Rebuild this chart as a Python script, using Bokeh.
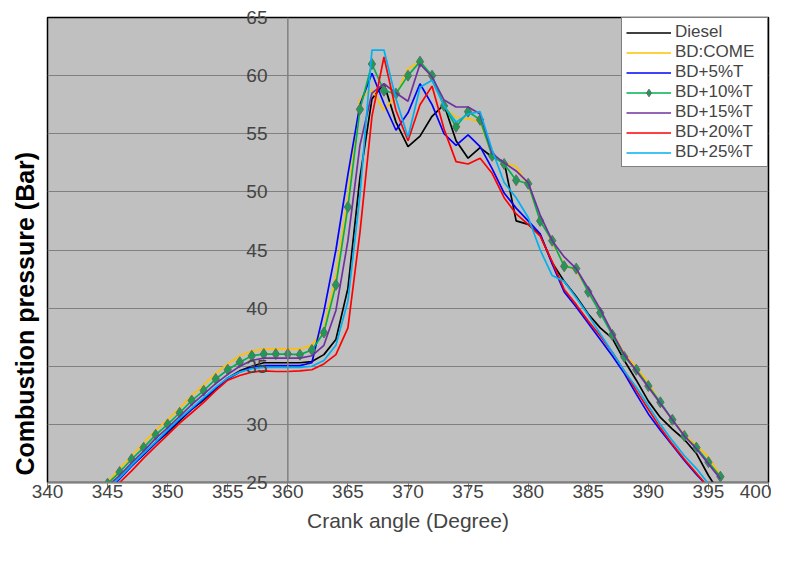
from bokeh.plotting import figure
from bokeh.models import Range1d, Legend, LegendItem, FixedTicker, Title, Span
from bokeh.embed import file_html
from bokeh.resources import INLINE

# ---- data ----
crank_angle = list(range(345, 397))

diesel = [24.4, 25.4, 26.5, 27.4, 28.4, 29.3, 30.3, 31.3, 32.1, 33.0,
          34.0, 34.6, 35.0, 35.3, 35.3, 35.3, 35.3, 35.4, 36.0, 37.3,
          41.7, 51.2, 58.0, 59.3, 56.0, 53.9, 54.8, 56.5, 57.5, 54.4,
          52.9, 53.8, 53.0, 52.6, 47.5, 47.2, 46.3, 43.9, 42.3, 41.0,
          39.5, 38.3, 37.4, 35.5, 33.8, 32.0, 30.6, 29.6, 28.7, 27.5,
          25.6, 24.0]
bd_come = [25.0, 26.2, 27.3, 28.4, 29.5, 30.4, 31.4, 32.5, 33.4, 34.4,
           35.2, 35.9, 36.3, 36.5, 36.5, 36.5, 36.5, 36.8, 38.2, 42.8,
           49.5, 58.0, 58.8, 57.0, 58.3, 60.6, 61.2, 59.8, 57.3, 56.4,
           56.3, 56.0, 53.2, 52.5, 52.2, 50.5, 47.8, 45.6, 43.8, 43.2,
           41.5, 39.7, 37.9, 36.1, 34.9, 33.6, 31.8, 30.4, 29.1, 28.2,
           27.2, 25.6]
bd_5t = [24.4, 25.3, 26.4, 27.4, 28.4, 29.4, 30.4, 31.3, 32.2, 33.1,
         33.9, 34.5, 34.9, 35.05, 35.05, 35.05, 35.05, 35.3, 39.7, 45.0,
         51.5, 57.5, 60.2, 57.6, 55.3, 56.8, 59.3, 57.5, 55.0, 54.0,
         54.9, 53.9, 52.0, 49.9, 48.6, 47.5, 46.4, 43.8, 41.4, 40.1,
         38.7, 37.3, 35.9, 34.4, 32.6, 30.9, 29.5, 28.2, 26.9, 25.7,
         24.6, 23.4]
bd_10t = [24.9, 25.9, 27.0, 28.0, 29.1, 30.0, 31.0, 32.05, 32.9, 33.9,
          34.7, 35.35, 35.9, 36.05, 36.05, 36.05, 36.0, 36.4, 37.9, 42.0,
          48.7, 57.1, 61.0, 58.7, 58.45, 60.0, 61.2, 60.0, 57.4, 55.6,
          56.9, 56.2, 53.1, 52.4, 51.0, 50.7, 47.5, 45.8, 43.6, 43.4,
          41.4, 39.6, 37.7, 35.8, 34.7, 33.3, 31.9, 30.4, 29.0, 28.0,
          26.75, 25.5]
bd_15t = [24.7, 25.6, 26.7, 27.7, 28.8, 29.7, 30.7, 31.7, 32.6, 33.5,
          34.3, 35.0, 35.5, 35.7, 35.7, 35.7, 35.7, 35.9, 36.8, 39.8,
          45.8, 54.0, 58.5, 59.3, 58.5, 57.8, 61.0, 59.9, 57.9, 57.3,
          57.3, 56.7, 53.3, 52.5, 51.8, 50.8, 48.0, 45.8, 44.4, 43.4,
          41.7, 39.9, 37.9, 36.0, 34.6, 33.2, 31.8, 30.4, 29.0, 27.9,
          26.6, 25.3]
bd_20t = [24.2, 25.0, 26.0, 27.1, 28.1, 29.1, 30.1, 31.0, 31.9, 32.9,
          33.8, 34.2, 34.5, 34.6, 34.55, 34.55, 34.6, 34.7, 35.2, 36.0,
          38.3, 46.5, 56.5, 61.6, 57.0, 54.4, 57.5, 59.1, 55.4, 52.6,
          52.4, 52.9, 51.6, 49.5, 48.1, 47.2, 46.2, 44.0, 41.6, 40.3,
          38.9, 37.6, 36.2, 34.6, 32.9, 31.3, 29.7, 28.3, 27.0, 25.8,
          24.6, 23.4]
bd_25t = [24.5, 25.4, 26.5, 27.5, 28.5, 29.5, 30.5, 31.4, 32.3, 33.2,
          34.0, 34.5, 34.8, 34.9, 34.9, 34.9, 34.9, 35.0, 35.5, 36.8,
          40.6, 49.7, 62.2, 62.2, 58.0, 54.7, 59.0, 59.6, 57.4, 56.0,
          56.7, 56.9, 53.6, 50.8, 49.5, 47.8, 45.0, 42.8, 42.3, 40.9,
          39.4, 37.8, 36.2, 34.6, 33.2, 31.6, 30.0, 28.6, 27.3, 26.2,
          24.9, 23.6]

series_names = ["Diesel", "BD:COME", "BD+5%T", "BD+10%T", "BD+15%T", "BD+20%T", "BD+25%T"]
series_values = [diesel, bd_come, bd_5t, bd_10t, bd_15t, bd_20t, bd_25t]
series_colors = ["#000000", "#FFC000", "#0000FF", "#00B050", "#7030A0", "#FF0000", "#00B0F0"]

x_ticks = list(range(340, 401, 5))
y_ticks = list(range(25, 66, 5))
y_axis_cross = 360

FONT = "Liberation Sans"

p = figure(width=771, height=551, output_backend="svg", toolbar_location=None,
           x_range=Range1d(340, 400), y_range=Range1d(25, 65),
           min_border_left=47, min_border_right=3, min_border_top=17, min_border_bottom=69)
p.background_fill_color = "#C0C0C0"
p.border_fill_color = "white"
p.outline_line_color = "black"
p.outline_line_width = 1.5

p.xgrid.visible = False
p.ygrid.ticker = FixedTicker(ticks=y_ticks)
p.ygrid.grid_line_color = "#808080"
p.ygrid.grid_line_width = 1.2

# x axis
xa = p.xaxis[0]
xa.ticker = FixedTicker(ticks=x_ticks)
xa.axis_line_color = "#808080"
xa.axis_line_width = 1.5
xa.major_tick_line_color = "#808080"
xa.major_tick_out = 7
xa.major_tick_in = 0
xa.minor_tick_line_color = None
xa.major_label_text_font = FONT
xa.major_label_text_font_size = "19px"
xa.major_label_standoff = -5
xa.axis_label = "Crank angle (Degree)"
xa.axis_label_text_font = FONT
xa.axis_label_text_font_size = "21px"
xa.axis_label_text_font_style = "normal"
xa.axis_label_standoff = 8

# value axis: the line crosses at x = 360; its labels are pulled in next to it
p.add_layout(Span(location=y_axis_cross, dimension="height", line_color="#808080", line_width=1.5))

ya = p.yaxis[0]
ya.ticker = FixedTicker(ticks=y_ticks)
ya.axis_line_color = None
ya.major_tick_line_color = None
ya.major_tick_out = 0
ya.major_tick_in = 0
ya.minor_tick_line_color = None
ya.major_label_text_font = FONT
ya.major_label_text_font_size = "19px"
ya.major_label_standoff = -220

# y axis title on the left side
p.add_layout(Title(text="Combustion pressure  (Bar)", align="left", offset=7,
                   vertical_align="top",
                   text_font=FONT, text_font_size="25px", text_font_style="bold",
                   text_color="black", standoff=13), "left")

items = []
for name, vals, col in zip(series_names, series_values, series_colors):
    r = p.line(crank_angle, vals, line_color=col, line_width=1.7)
    rs = [r]
    if name == "BD+10%T":
        m = p.scatter(crank_angle, vals, marker="diamond", size=11,
                      fill_color="#1E9A55", line_color="#5E6E66", line_width=1)
        rs.append(m)
    items.append(LegendItem(label=name, renderers=rs))

legend = Legend(items=items, location="top_right", margin=0,
                border_line_color="black", border_line_width=1,
                background_fill_color="white", background_fill_alpha=1,
                label_text_font=FONT, label_text_font_size="17px",
                glyph_width=45, glyph_height=19, label_height=19, label_width=88,
                spacing=0, padding=4, label_standoff=4)
p.add_layout(legend)

open("out.html", "w").write(file_html(p, INLINE))
